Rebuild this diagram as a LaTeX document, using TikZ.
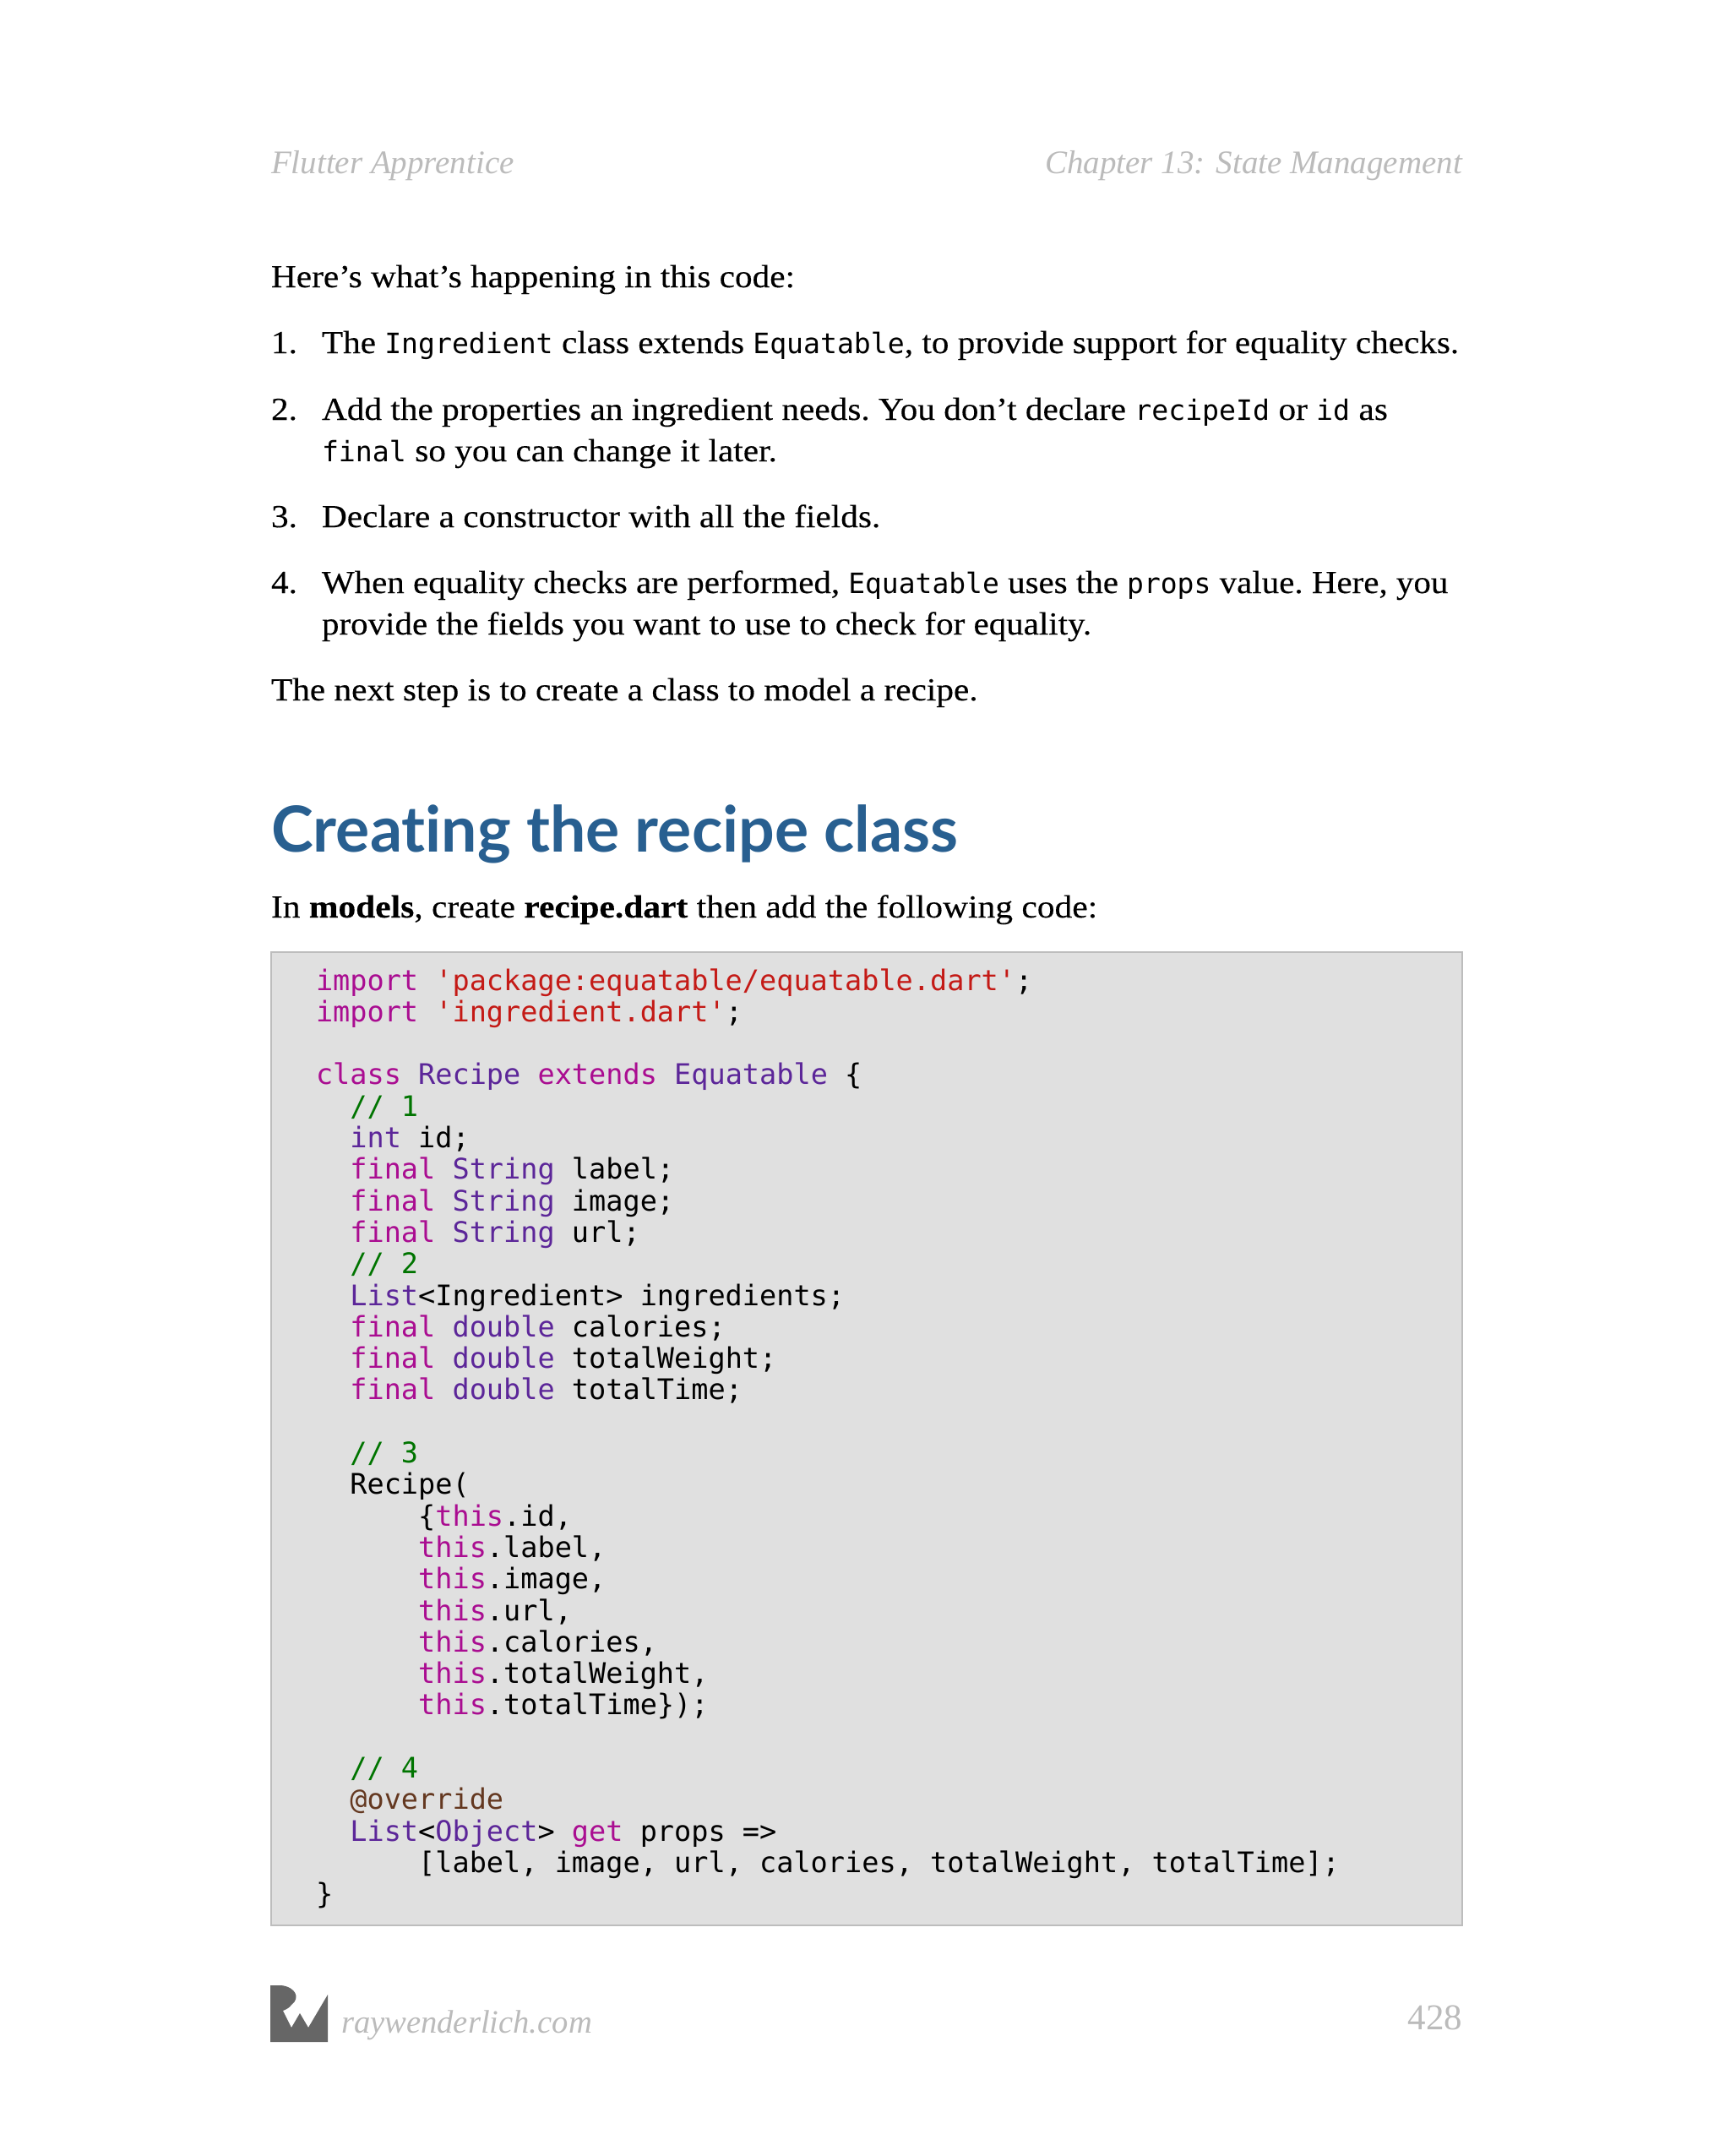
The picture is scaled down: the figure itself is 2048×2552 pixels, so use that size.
\documentclass[tikz,border=0pt]{standalone}
\usepackage{fontspec}
\setmainfont[FakeStretch=1.086,FakeBold=0.25]{Liberation Serif}
\setmonofont{DejaVu Sans Mono}
\newfontfamily\headfont[Ligatures=NoCommon]{Lato}
\newfontfamily\pagefont{Liberation Serif}
\definecolor{kw}{HTML}{AA0D91}
\definecolor{str}{HTML}{C41A16}
\definecolor{typ}{HTML}{5C2699}
\definecolor{cmt}{HTML}{007400}
\definecolor{ann}{HTML}{643820}
\definecolor{pagegrey}{HTML}{BBBBBB}
\definecolor{logogrey}{HTML}{666666}
\definecolor{headblue}{HTML}{285F90}
\definecolor{boxfill}{HTML}{E0E0E0}
\definecolor{boxline}{HTML}{BDBDBD}
\newcommand\kwd[1]{\textcolor{kw}{#1}}
\newcommand\strg[1]{\textcolor{str}{#1}}
\newcommand\typ[1]{\textcolor{typ}{#1}}
\newcommand\cmnt[1]{\textcolor{cmt}{#1}}
\newcommand\mon[1]{{\ttfamily\fontsize{33.2}{49}\selectfont #1}}
\tikzset{
  x=1pt,y=-1pt,
  bodytext/.style={anchor=base west,inner sep=0pt,outer sep=0pt,font=\fontsize{38}{49}\selectfont\frenchspacing},
  headtext/.style={anchor=base west,inner sep=0pt,outer sep=0pt,text=pagegrey,font=\pagefont\fontsize{39}{49}\selectfont\itshape},
  foottext/.style={anchor=base west,inner sep=0pt,outer sep=0pt,text=pagegrey,font=\pagefont\fontsize{38.6}{49}\selectfont\itshape},
  pagenum/.style={anchor=base east,inner sep=0pt,outer sep=0pt,text=pagegrey,font=\pagefont\fontsize{43}{49}\selectfont},
  codetext/.style={anchor=base west,inner sep=0pt,outer sep=0pt,font=\ttfamily\fontsize{33.55}{37}\selectfont\frenchspacing},
}
\newcommand\codeln[3]{\node[codetext] (code#1) at ({374+20.2*#2},{1172+37.3*#1}) {#3};}
\begin{document}
\begin{tikzpicture}
\useasboundingbox (0,0) rectangle (2048,2552);
\fill[white] (0,0) rectangle (2048,2552);
\node[headtext] (hl) at (321,205) {Flutter Apprentice};
\node[headtext,anchor=base east] (hr) at (1731,205) {Chapter 13: State Management};
\node[bodytext] (p0) at (321,340) {Here’s what’s happening in this code:};
\node[bodytext] (n1) at (321,418) {1.};
\node[bodytext] (i1) at (381,418) {\scalebox{0.9976}[1]{The \mon{Ingredient} class extends \mon{Equatable}, to provide support for equality checks.}};
\node[bodytext] (n2) at (321,497) {2.};
\node[bodytext] (i2) at (381,497) {Add the properties an ingredient needs. You don’t declare \mon{recipeId} or \mon{id} as};
\node[bodytext] (i2b) at (381,546) {\mon{final} so you can change it later.};
\node[bodytext] (n3) at (321,624) {3.};
\node[bodytext] (i3) at (381,624) {Declare a constructor with all the fields.};
\node[bodytext] (n4) at (321,702) {4.};
\node[bodytext] (i4) at (381,702) {\scalebox{0.9927}[1]{When equality checks are performed, \mon{Equatable} uses the \mon{props} value. Here, you}};
\node[bodytext] (i4b) at (381,751) {\scalebox{0.9929}[1]{provide the fields you want to use to check for equality.}};
\node[bodytext] (p1) at (321,829) {The next step is to create a class to model a recipe.};
\node[anchor=base west,inner sep=0pt,text=headblue,font=\headfont\bfseries\fontsize{75.2}{90}\selectfont] (h1) at (321,1008) {Creating the recipe class};
\node[bodytext] (p2) at (321,1086) {\scalebox{1.005}[1]{In \textbf{models}, create \textbf{recipe.dart} then add the following code:}};
\draw[fill=boxfill,draw=boxline,line width=2pt] (321,1127) rectangle (1731,2279);
\codeln{0}{0}{\kwd{import} \strg{'package:equatable/equatable.dart'};}
\codeln{1}{0}{\kwd{import} \strg{'ingredient.dart'};}
\codeln{3}{0}{\kwd{class} \typ{Recipe} \kwd{extends} \typ{Equatable} \{}
\codeln{4}{2}{\cmnt{// 1}}
\codeln{5}{2}{\typ{int} id;}
\codeln{6}{2}{\kwd{final} \typ{String} label;}
\codeln{7}{2}{\kwd{final} \typ{String} image;}
\codeln{8}{2}{\kwd{final} \typ{String} url;}
\codeln{9}{2}{\cmnt{// 2}}
\codeln{10}{2}{\typ{List}<Ingredient> ingredients;}
\codeln{11}{2}{\kwd{final} \typ{double} calories;}
\codeln{12}{2}{\kwd{final} \typ{double} totalWeight;}
\codeln{13}{2}{\kwd{final} \typ{double} totalTime;}
\codeln{15}{2}{\cmnt{// 3}}
\codeln{16}{2}{Recipe(}
\codeln{17}{6}{\{\kwd{this}.id,}
\codeln{18}{6}{\kwd{this}.label,}
\codeln{19}{6}{\kwd{this}.image,}
\codeln{20}{6}{\kwd{this}.url,}
\codeln{21}{6}{\kwd{this}.calories,}
\codeln{22}{6}{\kwd{this}.totalWeight,}
\codeln{23}{6}{\kwd{this}.totalTime\});}
\codeln{25}{2}{\cmnt{// 4}}
\codeln{26}{2}{\textcolor{ann}{@override}}
\codeln{27}{2}{\typ{List}<\typ{Object}> \kwd{get} props =>}
\codeln{28}{6}{[label, image, url, calories, totalWeight, totalTime];}
\codeln{29}{0}{\}}
\fill[logogrey] (320,2350) -- (333,2350) .. controls (350,2352) and (356,2365) .. (345,2373) .. controls (343,2376) and (340,2378) .. (335,2380) -- (345,2400) -- (355,2383) -- (365,2400) -- (388,2361) -- (388,2417) -- (320,2417) -- cycle;
\node[foottext] (foot) at (404,2406) {raywenderlich.com};
\node[pagenum] (pn) at (1731,2402) {428};
\end{tikzpicture}
\end{document}
